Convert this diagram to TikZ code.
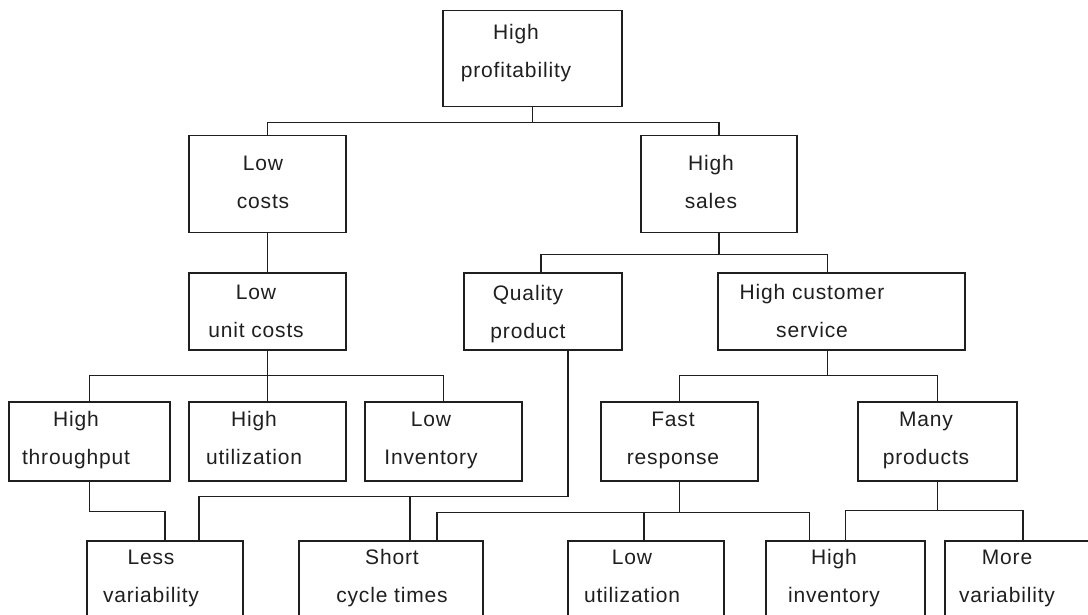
\documentclass[tikz,border=0pt]{standalone}
\usepackage{fontspec}
\setmainfont{Liberation Sans}[LetterSpace=4]
\definecolor{ink}{gray}{0.12}
\begin{document}
\begin{tikzpicture}[x=1pt, y=-1pt,
  box/.style 2 args={draw=ink, line width=1.5pt, inner sep=0pt,
    anchor=north west, minimum width=#1, minimum height=#2},
  lbl/.style={font=\fontsize{21}{38}\selectfont, align=center,
    anchor=base, text=ink, inner sep=0pt},
  wire/.style={draw=ink, line width=1.5pt}]
\useasboundingbox (0,0) rectangle (1088,615);
\fill[white] (0,0) rectangle (1088,615);
\clip (0,0) rectangle (1088,615);

% boxes: level by level
\node[box={179pt}{96pt}]  (top) at (442,10)  {};
\node[box={157pt}{97pt}]  (lc)  at (188,135) {};
\node[box={156pt}{97pt}]  (hs)  at (640,135) {};
\node[box={157pt}{77pt}]  (luc) at (188,272) {};
\node[box={158pt}{77pt}]  (qp)  at (463,272) {};
\node[box={247pt}{77pt}]  (hcs) at (717,272) {};
\node[box={161pt}{79pt}]  (ht)  at (8,401)   {};
\node[box={157pt}{79pt}]  (hu)  at (188,401) {};
\node[box={157pt}{79pt}]  (li)  at (364,401) {};
\node[box={157pt}{79pt}]  (fr)  at (600,401) {};
\node[box={159pt}{79pt}]  (mp)  at (857,401) {};
\node[box={156pt}{85pt}]  (lv)  at (86,540)  {};
\node[box={184pt}{85pt}]  (sct) at (298,540) {};
\node[box={156pt}{85pt}]  (lu)  at (567,540) {};
\node[box={159pt}{85pt}]  (hi)  at (765,540) {};
\node[box={156pt}{85pt}]  (mv)  at (944,540) {};

% labels (anchored on the baseline of the last line)
\node[lbl] (t-top) at (516,78)  {High\\profitability};
\node[lbl] (t-lc)  at (263,208) {Low\\costs};
\node[lbl] (t-hs)  at (711,208) {High\\sales};
\node[lbl] (t-luc) at (256,337) {Low\\unit costs};
\node[lbl] (t-qp)  at (528,338) {Quality\\product};
\node[lbl] (t-hcs) at (812,337) {High customer\\service};
\node[lbl] (t-ht)  at (76,464)  {High\\throughput};
\node[lbl] (t-hu)  at (254,464) {High\\utilization};
\node[lbl] (t-li)  at (431,464) {Low\\Inventory};
\node[lbl] (t-fr)  at (673,464) {Fast\\response};
\node[lbl] (t-mp)  at (926,464) {Many\\products};
\node[lbl] (t-lv)  at (151,602) {Less\\variability};
\node[lbl] (t-sct) at (392,602) {Short\\cycle times};
\node[lbl] (t-lu)  at (632,602) {Low\\utilization};
\node[lbl] (t-hi)  at (834,602) {High\\inventory};
\node[lbl] (t-mv)  at (1007,602) {More\\variability};

% connectors
\draw[wire] (top.south) -- ++(0,15) coordinate (j1);
\draw[wire] (lc.north) |- (j1) -| (hs.north);

\draw[wire] (lc.south) -- (luc.north);

\draw[wire] (hs.south) -- ++(0,21) coordinate (j2);
\draw[wire] ([xshift=-2pt]qp.north) |- (j2) -| ([xshift=-14pt]hcs.north);

\draw[wire] (luc.south) -- ++(0,25) coordinate (j3);
\draw[wire] (ht.north) |- (j3) -| (li.north);
\draw[wire] (j3) -- (hu.north);

\draw[wire] ([xshift=-14pt]hcs.south) -- ++(0,25) coordinate (j4);
\draw[wire] (fr.north) |- (j4) -| (mp.north);

\draw[wire] (ht.south) -- ++(0,30) -| (lv.north);

\draw[wire] ([xshift=25pt]qp.south) -- ++(0,146) coordinate (j5);
\draw[wire] ([xshift=34pt]lv.north) |- (j5);
\draw[wire] ([xshift=19pt]sct.north) -- ([xshift=19pt]sct.north |- j5);

\draw[wire] (fr.south) -- ++(0,31) coordinate (j6);
\draw[wire] ([xshift=46pt]sct.north) |- (j6) -| ([xshift=-36pt]hi.north);
\draw[wire] ([xshift=-2pt]lu.north) -- ([xshift=-2pt]lu.north |- j6);

\draw[wire] (mp.south) -- ++(0,29) coordinate (j7);
\draw[wire] (hi.north) |- (j7) -| (mv.north);
\end{tikzpicture}
\end{document}
